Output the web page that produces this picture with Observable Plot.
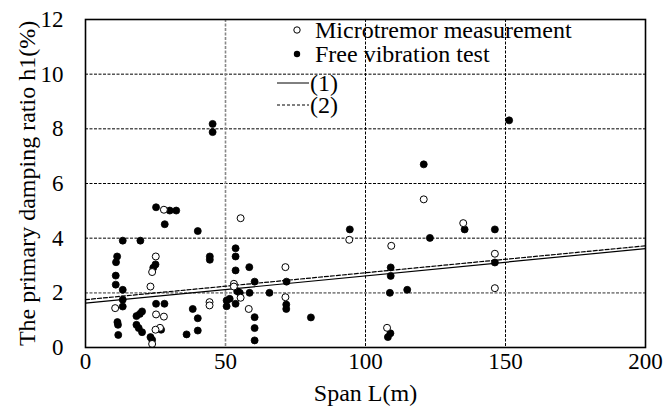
<!DOCTYPE html>
<html><head><meta charset="utf-8">
<script src="https://cdn.jsdelivr.net/npm/d3@7"></script>
<script src="https://cdn.jsdelivr.net/npm/@observablehq/plot@0.6"></script>
<style>
body{margin:0;background:#fff}
svg, svg text{font-family:"Liberation Serif","Tinos","Times New Roman","DejaVu Serif",serif !important}
</style>
</head><body><div id="chart"></div>
<script>
// Microtremor measurement (open circles)
const microSpan = [28.0,25.1,23.8,23.2,10.6,25.2,28.0,26.6,25.0,23.8,55.4,71.4,53.0,53.0,55.4,71.4,44.3,44.3,58.3,94.2,109.2,107.7,120.8,134.9,146.2,146.2];
const microH    = [5.04,3.33,2.76,2.23,1.44,1.21,1.13,0.72,0.65,0.13,4.73,2.94,2.33,2.23,1.82,1.84,1.66,1.54,1.41,3.94,3.72,0.72,5.42,4.55,3.43,2.17];
// Free vibration test (filled circles)
const freeSpan = [25.2,30.1,32.4,28.3,40.1,13.3,19.6,11.3,10.9,25.0,24.2,10.8,10.8,13.3,13.3,13.3,11.4,11.6,11.7,20.2,19.4,18.2,18.2,19.0,20.2,25.2,28.2,27.0,23.2,23.8,36.1,38.3,40.1,40.1,45.4,45.4,44.4,44.4,53.6,53.6,53.6,58.5,60.4,71.8,54.2,55.1,58.6,65.7,71.7,71.7,50.4,51.5,50.4,53.6,60.4,60.4,60.4,80.5,94.4,120.8,123.0,109.0,109.0,108.7,114.9,108.9,108.0,135.4,146.2,146.2,151.3];
const freeH    = [5.13,5.01,5.01,4.51,4.26,3.91,3.91,3.33,3.12,3.04,2.92,2.63,2.30,2.11,1.75,1.50,0.93,0.83,0.46,1.32,1.23,1.15,0.83,0.71,0.56,1.60,1.60,0.65,0.38,0.28,0.48,1.41,1.07,0.62,8.18,7.88,3.33,3.21,3.63,3.33,2.82,2.94,2.41,2.41,2.06,2.00,2.00,2.00,1.57,1.41,1.72,1.78,1.51,1.60,1.11,0.71,0.26,1.10,4.32,6.70,4.01,2.93,2.62,2.00,2.11,0.52,0.38,4.32,4.32,3.11,8.31];
// Regression lines (1) and (2)
const lineSpan = [0, 200];
const line1H = [1.62, 3.62];
const line2H = [1.75, 3.72];
const xTicks = [0, 50, 100, 150, 200];
const yTicks = [0, 2, 4, 6, 8, 10, 12];
const gridBlackY = [4, 6, 8, 10];
const gridGrayY = [2];
const gridGrayX = [50];
const gridBlackX = [100, 150];
const legendLabels = ["Microtremor measurement", "Free vibration test", "(1)", "(2)"];

const micro = microSpan.map((x, i) => ({x, y: microH[i]}));
const free = freeSpan.map((x, i) => ({x, y: freeH[i]}));
const l1 = lineSpan.map((x, i) => ({x, y: line1H[i]}));
const l2 = lineSpan.map((x, i) => ({x, y: line2H[i]}));

const font = '"Liberation Serif","Tinos","Times New Roman","DejaVu Serif",serif';
const plot = Plot.plot({
  width: 670, height: 419,
  marginLeft: 85, marginRight: 25, marginTop: 19, marginBottom: 72,
  style: {fontFamily: font, fontSize: "23px", background: "white", color: "black"},
  x: {domain: [0, 200]},
  y: {domain: [0, 12]},
  marks: [
    Plot.ruleY(gridBlackY, {stroke: "black", strokeWidth: 1, strokeDasharray: "3,1.5"}),
    Plot.ruleY(gridGrayY, {stroke: "#888", strokeWidth: 1.6, strokeDasharray: "3,1.5"}),
    Plot.ruleX(gridGrayX, {stroke: "#888", strokeWidth: 1.6, strokeDasharray: "3,1.5"}),
    Plot.ruleX(gridBlackX, {stroke: "black", strokeWidth: 1, strokeDasharray: "3,1.5"}),
    Plot.line(l1, {x: "x", y: "y", stroke: "black", strokeWidth: 1.2}),
    Plot.line(l2, {x: "x", y: "y", stroke: "black", strokeWidth: 1.2, strokeDasharray: "4,2"}),
    Plot.dot(free, {x: "x", y: "y", r: 3.5, fill: "black", stroke: "black", strokeWidth: 0.8}),
    Plot.dot(micro, {x: "x", y: "y", r: 3.5, fill: "white", stroke: "black", strokeWidth: 1}),
    Plot.frame({stroke: "black", strokeWidth: 1.6}),
    Plot.axisX({ticks: xTicks, tickSize: 0, tickPadding: 5, fontSize: 23, label: null}),
    Plot.axisX({ticks: [], tickSize: 0, label: "Span L(m)", labelAnchor: "center", labelArrow: "none", labelOffset: 53, fontSize: 24}),
    Plot.axisY({ticks: yTicks, tickSize: 0, tickPadding: 22, fontSize: 23, label: null}),
    Plot.axisY({ticks: [], tickSize: 0, label: "The primary damping ratio h1(%)", labelAnchor: "center", labelArrow: "none", labelOffset: 68, fontSize: 24})
  ]
});
document.getElementById("chart").appendChild(plot);

// Legend inside the plot area
const svg = d3.select(plot);
const lg = svg.append("g").attr("font-family", font).attr("font-size", 24).attr("fill", "black").attr("text-anchor", "start");
const rows = [30, 54, 83, 105];
lg.append("circle").attr("cx", 297).attr("cy", rows[0]).attr("r", 3.2).attr("fill", "white").attr("stroke", "black");
lg.append("circle").attr("cx", 297).attr("cy", rows[1]).attr("r", 3.2).attr("fill", "black");
lg.append("line").attr("x1", 277).attr("x2", 309).attr("y1", rows[2]).attr("y2", rows[2]).attr("stroke", "black");
lg.append("line").attr("x1", 277).attr("x2", 309).attr("y1", rows[3]).attr("y2", rows[3]).attr("stroke", "black").attr("stroke-dasharray", "3,2");
[315, 315, 310, 310].forEach((x, i) => {
  lg.append("text").attr("x", x).attr("y", rows[i]).attr("dy", "0.35em").attr("text-anchor", "start").text(legendLabels[i]);
});
</script>
</body></html>
